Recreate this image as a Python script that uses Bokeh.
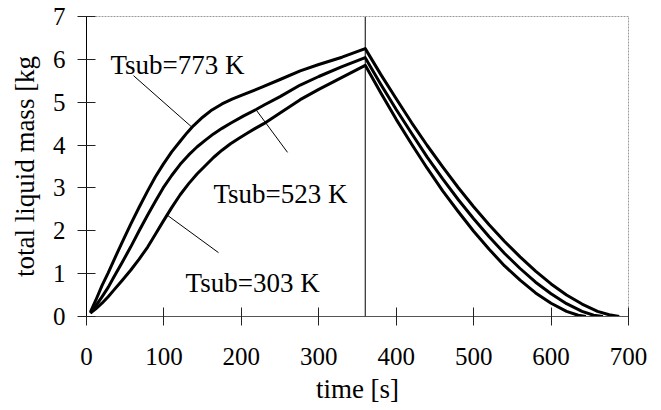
from bokeh.plotting import figure
from bokeh.models import Range1d, Label, Span, FixedTicker
from bokeh.embed import file_html
from bokeh.resources import INLINE

# Total liquid mass on the substrate for three substrate temperatures.
# Injection stops at t = 360 s, afterwards the film evaporates.
t_303 = [5, 12, 20, 28, 35, 46, 57, 68, 79, 89, 99, 110, 121, 132, 143, 154, 164,
         175, 186, 197, 208, 218, 229, 250, 276, 300, 330, 360,
         380, 400, 420, 440, 460, 480, 500, 520, 540, 560, 580, 600, 620, 635, 645]
m_303 = [0.08, 0.18, 0.31, 0.46, 0.61, 0.84, 1.08, 1.34, 1.62, 1.92, 2.22, 2.54, 2.84,
         3.10, 3.33, 3.53, 3.71, 3.88, 4.03, 4.16, 4.28, 4.39, 4.50, 4.75, 5.06, 5.30,
         5.58, 5.86,
         5.22, 4.60, 4.02, 3.46, 2.93, 2.45, 1.99, 1.57, 1.18, 0.85, 0.55, 0.31, 0.12,
         0.03, 0.0]

t_523 = [5, 12, 20, 28, 35, 46, 57, 68, 79, 89, 99, 110, 121, 132, 143, 154, 164,
         175, 186, 203, 219, 230, 250, 276, 300, 330, 360,
         380, 400, 420, 440, 460, 480, 500, 520, 540, 560, 580, 600, 620, 640, 655, 667]
m_523 = [0.08, 0.25, 0.46, 0.68, 0.91, 1.26, 1.62, 2.00, 2.37, 2.69, 3.00, 3.29, 3.55,
         3.77, 3.96, 4.12, 4.26, 4.39, 4.51, 4.68, 4.83, 4.94, 5.13, 5.40, 5.60, 5.83,
         6.04,
         5.42, 4.83, 4.27, 3.72, 3.21, 2.73, 2.28, 1.86, 1.47, 1.12, 0.80, 0.53, 0.30,
         0.12, 0.03, 0.0]

t_773 = [5, 12, 20, 28, 35, 46, 57, 68, 79, 89, 99, 110, 121, 130, 138, 150, 162,
         175, 188, 200, 225, 250, 276, 300, 330, 360,
         380, 400, 420, 440, 460, 480, 500, 520, 540, 560, 580, 600, 620, 640, 660,
         675, 688]
m_773 = [0.10, 0.38, 0.72, 1.02, 1.30, 1.73, 2.15, 2.55, 2.93, 3.26, 3.55, 3.84, 4.09,
         4.29, 4.45, 4.65, 4.82, 4.96, 5.07, 5.16, 5.34, 5.53, 5.73, 5.88, 6.05, 6.25,
         5.65, 5.08, 4.52, 3.99, 3.49, 3.01, 2.56, 2.14, 1.75, 1.39, 1.06, 0.76, 0.50,
         0.29, 0.12, 0.04, 0.0]

injection_end = 360

x_ticks = [0, 100, 200, 300, 400, 500, 600, 700]
y_ticks = [0, 1, 2, 3, 4, 5, 6, 7]

# Curve labels: text, anchor (left, baseline) and leader line end points
labels = ["Tsub=773 K", "Tsub=523 K", "Tsub=303 K"]
label_x = [31, 164, 128]
label_y = [5.86, 2.87, 0.79]
leader_x0 = [60.7, 259.6, 104.6]
leader_y0 = [5.62, 3.83, 2.36]
leader_x1 = [136.0, 219.5, 170.5]
leader_y1 = [4.42, 4.81, 1.49]

FONT = "Liberation Serif"

p = figure(output_backend="svg", toolbar_location=None,
           frame_width=542, frame_height=300,
           x_range=Range1d(0, 700), y_range=Range1d(0, 7))
p.min_border_left = 86
p.min_border_right = 33
p.min_border_top = 16
p.min_border_bottom = 94
p.background_fill_color = "white"
p.border_fill_color = "white"
p.grid.visible = False
p.outline_line_color = "#9a9a9a"
p.outline_line_dash = "2 1"
p.outline_line_width = 1

for ax in (p.xaxis[0], p.yaxis[0]):
    ax.major_tick_in = 9
    ax.major_tick_out = 9
    ax.minor_tick_line_color = None
    ax.major_tick_line_color = "#222222"
    ax.major_label_text_font = FONT
    ax.major_label_text_font_size = "25px"
    ax.major_label_text_color = "black"
    ax.axis_label_text_font = FONT
    ax.axis_label_text_font_size = "27px"
    ax.axis_label_text_font_style = "normal"
    ax.axis_label_text_color = "black"

p.xaxis.ticker = FixedTicker(ticks=x_ticks)
p.yaxis.ticker = FixedTicker(ticks=y_ticks)
p.xaxis.axis_line_color = "#555555"
p.yaxis.axis_line_color = "black"
p.xaxis.major_label_standoff = 22
p.yaxis.major_label_standoff = 12
p.xaxis.axis_label = "time [s]"
p.yaxis.axis_label = "total liquid mass [kg"
p.xaxis.axis_label_standoff = 6
p.yaxis.axis_label_standoff = 10

p.add_layout(Span(location=injection_end, dimension="height",
                  line_color="black", line_width=1))

for t, m in ((t_303, m_303), (t_523, m_523), (t_773, m_773)):
    p.line(t, m, line_color="black", line_width=3, line_join="round")

p.segment(leader_x0, leader_y0, leader_x1, leader_y1, line_color="black", line_width=1)

for txt, lx, ly in zip(labels, label_x, label_y):
    p.add_layout(Label(x=lx, y=ly, text=txt, text_font=FONT, text_font_size="27px",
                       text_color="black", text_align="left",
                       text_baseline="alphabetic"))

open("out.html", "w").write(file_html(p, INLINE))
